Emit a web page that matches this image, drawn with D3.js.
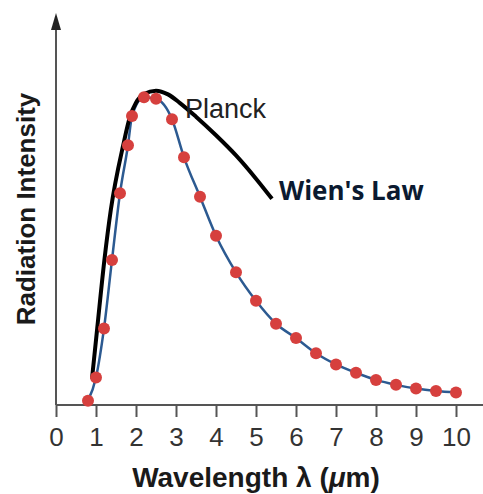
<!DOCTYPE html>
<html lang="en">
<head>
  <meta charset="UTF-8">
  <title>Planck vs Wien</title>
  <script src="https://d3js.org/d3.v7.min.js"></script>
  <style>
    body { margin: 0; background: #fff; }
    .tick text { font-family: "Liberation Sans", Arial, sans-serif; }
  </style>
</head>
<body>
  <svg id="chart" width="483" height="494"></svg>
  <script>
    // Planck curve samples (wavelength in um, relative intensity)
    const planckX = [0.8, 1.0, 1.2, 1.4, 1.6, 1.8, 1.9, 2.2, 2.5, 2.9, 3.2, 3.6, 4.0, 4.5, 5.0, 5.5, 6.0, 6.5, 7.0, 7.5, 8.0, 8.5, 9.0, 9.5, 10.0];
    const planckY = [1.4, 8.9, 24.7, 46.8, 68.3, 83.8, 93.2, 99.3, 98.8, 92.2, 79.9, 67.2, 54.6, 42.8, 33.6, 26.2, 21.6, 16.7, 13.1, 10.4, 8.1, 6.5, 5.3, 4.5, 4.0];

    // Wien's law curve
    const wienX = [0.9, 1.03, 1.21, 1.37, 1.68, 1.85, 2.0, 2.2, 2.5, 2.8, 3.1, 3.5, 4.0, 4.5, 5.0, 5.4];
    const wienY = [8.5, 24.7, 46.8, 62.9, 83.8, 93.0, 97.5, 100.3, 101.4, 100.2, 97.4, 93, 87, 80.5, 73, 66.5];

    const xTicks = [0, 1, 2, 3, 4, 5, 6, 7, 8, 9, 10];

    const svg = d3.select("#chart");
    const width = +svg.attr("width");

    const x = d3.scaleLinear().domain([0, 10]).range([56, 456]);
    const y = d3.scaleLinear().domain([0, 100]).range([405, 95]);

    const axisColor = "#555";

    // y axis with arrow
    svg.append("line")
      .attr("x1", x(0)).attr("x2", x(0))
      .attr("y1", y(0)).attr("y2", 26)
      .attr("stroke", axisColor).attr("stroke-width", 2);
    svg.append("path")
      .attr("d", `M${x(0)},13 L${x(0) - 5},30 L${x(0) + 5},30 Z`)
      .attr("fill", "#222");

    // x axis
    svg.append("line")
      .attr("x1", x(0)).attr("x2", width)
      .attr("y1", y(0)).attr("y2", y(0))
      .attr("stroke", axisColor).attr("stroke-width", 2);

    let bottomAxis = d3.axisBottom(x)
      .tickValues(xTicks)
      .tickSize(12)
      .tickPadding(11)
      .tickFormat(d3.format("d"));

    let gx = svg.append("g")
      .attr("transform", `translate(0,${y(0)})`)
      .call(bottomAxis);
    gx.select(".domain").remove();
    gx.selectAll(".tick line").attr("stroke", axisColor).attr("stroke-width", 2);
    gx.selectAll(".tick text")
      .attr("fill", "#333")
      .style("font-size", "26px");

    // Planck curve (blue line + red dots)
    const planck = planckX.map((d, i) => ({x: d, y: planckY[i]}));
    const wien = wienX.map((d, i) => ({x: d, y: wienY[i]}));

    const lineGen = d3.line()
      .x(d => x(d.x))
      .y(d => y(d.y))
      .curve(d3.curveMonotoneX);

    svg.append("path")
      .datum(planck)
      .attr("fill", "none")
      .attr("stroke", "#2c5a91")
      .attr("stroke-width", 2.5)
      .attr("d", lineGen);

    svg.append("path")
      .datum(wien)
      .attr("fill", "none")
      .attr("stroke", "#000")
      .attr("stroke-width", 4)
      .attr("d", lineGen);

    svg.selectAll("circle.pt")
      .data(planck)
      .enter().append("circle")
      .attr("class", "pt")
      .attr("cx", d => x(d.x))
      .attr("cy", d => y(d.y))
      .attr("r", 6)
      .attr("fill", "#d6403e");

    // labels
    svg.append("text")
      .attr("x", 185).attr("y", 118)
      .style("font", "27px 'Liberation Sans', Arial, sans-serif")
      .attr("fill", "#222")
      .text("Planck");

    svg.append("text")
      .attr("x", 279).attr("y", 200)
      .style("font", "bold 26px 'Open Sans', sans-serif")
      .attr("fill", "#0b1a30")
      .text("Wien's Law");

    let xTitle = svg.append("text")
      .attr("x", 256).attr("y", 487)
      .attr("text-anchor", "middle")
      .style("font", "bold 28px 'Liberation Sans', Arial, sans-serif")
      .attr("fill", "#1a1a1a");
    xTitle.append("tspan").text("Wavelength λ (");
    xTitle.append("tspan").style("font-style", "italic").text("μ");
    xTitle.append("tspan").text("m)");

    svg.append("text")
      .attr("transform", "translate(35,209) rotate(-90)")
      .attr("text-anchor", "middle")
      .style("font", "bold 26px 'Liberation Sans', Arial, sans-serif")
      .attr("fill", "#1a1a1a")
      .text("Radiation Intensity");
  </script>
</body>
</html>
